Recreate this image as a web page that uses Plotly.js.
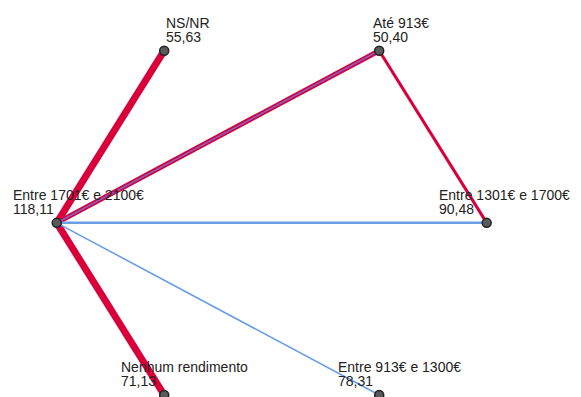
<!DOCTYPE html>
<html>
<head>
<meta charset="utf-8">
<script src="https://cdn.plot.ly/plotly-3.0.1.min.js"></script>
<style>html,body{margin:0;padding:0;background:#fff;}#chart{width:581px;height:397px;}</style>
</head>
<body>
<div id="chart"></div>
<script>
// Nodes, in clockwise order starting from the top-left position of the circle
const nodeNames = ["NS/NR", "Até 913€", "Entre 1301€ e 1700€", "Entre 913€ e 1300€", "Nenhum rendimento", "Entre 1701€ e 2100€"];
const nodeValues = [55.63, 50.40, 90.48, 78.31, 71.13, 118.11];

// Edges (source index, target index, weight, group)
const edgeFrom   = [5, 5, 5, 1, 5, 5];
const edgeTo     = [0, 4, 1, 2, 2, 3];
const edgeWeight = [7, 7, 5, 3, 2.5, 1.6];
const edgeGroup  = ["red", "red", "red", "red", "blue", "blue"];
// overlay edge on the same pair (blue inner line on the Até edge)
const overFrom = [5];
const overTo = [1];
const overWeight = [1.4];

// styling / layout (not data)
const groupColor = {red: "#d9003a", blue: "#6b9ee8"};
const labelDx = [0.5, -7, -48.5, -42.5, -44, -45];

// circular layout
const nx = nodeNames.map((_, i) => Math.cos((120 - 60 * i) * Math.PI / 180));
const ny = nodeNames.map((_, i) => Math.sin((120 - 60 * i) * Math.PI / 180));

const traces = [];
const order = [0,1,2,3,4,5].sort((a,b) => (edgeGroup[a]==="red"?0:1) - (edgeGroup[b]==="red"?0:1));
order.forEach(k => {
  traces.push({
    type: "scatter", mode: "lines", hoverinfo: "skip", showlegend: false,
    x: [nx[edgeFrom[k]], nx[edgeTo[k]]],
    y: [ny[edgeFrom[k]], ny[edgeTo[k]]],
    line: {color: groupColor[edgeGroup[k]], width: edgeWeight[k]}
  });
});
overFrom.forEach((f, k) => {
  traces.push({
    type: "scatter", mode: "lines", hoverinfo: "skip", showlegend: false,
    x: [nx[f], nx[overTo[k]]], y: [ny[f], ny[overTo[k]]],
    line: {color: "#6f6fd8", width: overWeight[k]}
  });
});
traces.push({
  type: "scatter", mode: "markers", showlegend: false,
  x: nx, y: ny, text: nodeNames, hoverinfo: "text",
  marker: {size: 9, color: "#5a5a5a", line: {color: "#222", width: 1.5}}
});

const fmt = v => v.toFixed(2).replace(".", ",");
const annotations = [];
nodeNames.forEach((name, i) => {
  const base = {x: nx[i], y: ny[i], xref: "x", yref: "y", showarrow: false,
    xanchor: "left", yanchor: "bottom", xshift: labelDx[i], borderpad: 0,
    font: {family: "Liberation Sans, Arial, sans-serif", size: 14, color: "#222"}};
  annotations.push(Object.assign({}, base, {text: name, yshift: 19}));
  annotations.push(Object.assign({}, base, {text: fmt(nodeValues[i]), yshift: 5}));
});

const layout = {
  width: 581, height: 397,
  margin: {l: 0, r: 0, t: 0, b: 0},
  paper_bgcolor: "#fff", plot_bgcolor: "#fff",
  xaxis: {range: [-1.2637, 1.4386], visible: false, fixedrange: true},
  yaxis: {range: [-0.876, 1.121], visible: false, fixedrange: true},
  annotations: annotations
};
Plotly.newPlot("chart", traces, layout, {displayModeBar: false, staticPlot: true});
</script>
</body>
</html>
